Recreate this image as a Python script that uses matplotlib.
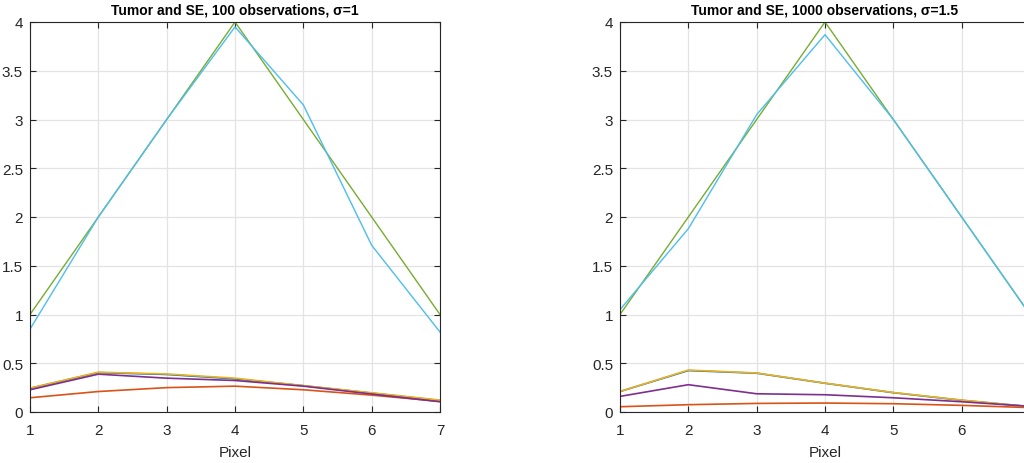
import matplotlib
matplotlib.use("Agg")
import matplotlib.pyplot as plt
from matplotlib.ticker import FuncFormatter

plt.rcParams['font.family'] = ['Liberation Sans', 'DejaVu Sans']

pixels = [1, 2, 3, 4, 5, 6, 7]

# Left panel: 100 observations, sigma=1
left_title = "Tumor and SE, 100 observations, σ=1"
left_se_blue = [0.243, 0.404, 0.385, 0.34, 0.27, 0.194, 0.118]
left_se_orange = [0.146, 0.21, 0.25, 0.265, 0.228, 0.173, 0.109]
left_se_yellow = [0.245, 0.408, 0.39, 0.347, 0.27, 0.197, 0.122]
left_se_purple = [0.228, 0.388, 0.347, 0.323, 0.265, 0.184, 0.105]
left_true = [1, 2, 3, 4, 3, 2, 1]
left_est = [0.85, 2.0, 3.0, 3.95, 3.15, 1.71, 0.82]

# Right panel: 1000 observations, sigma=1.5
right_title = "Tumor and SE, 1000 observations, σ=1.5"
right_se_blue = [0.21, 0.425, 0.398, 0.295, 0.198, 0.12, 0.055]
right_se_orange = [0.054, 0.075, 0.088, 0.092, 0.085, 0.068, 0.045]
right_se_yellow = [0.21, 0.43, 0.40, 0.296, 0.20, 0.122, 0.055]
right_se_purple = [0.16, 0.28, 0.187, 0.177, 0.146, 0.105, 0.058]
right_true = [1, 2, 3, 4, 3, 2, 1]
right_est = [1.05, 1.88, 3.05, 3.87, 3.0, 2.0, 1.0]

colors = ['#0072BD', '#D95319', '#EDB120', '#7E2F8E', '#77AC30', '#4DBEEE']

fig = plt.figure(figsize=(10.24, 4.64), dpi=100)
ax1 = fig.add_axes([30/1024, 51/464, 410/1024, 390/464])
ax2 = fig.add_axes([620/1024, 51/464, 410/1024, 390/464])

def fmt(v, pos):
    return f"{v:g}"

def fmt_right_x(v, pos):
    # tick label at x=7 falls outside the visible figure in the reference
    return "" if v >= 7 else f"{v:g}"

panels = [
    (ax1, left_title, [left_se_blue, left_se_orange, left_se_yellow, left_se_purple], left_true, left_est),
    (ax2, right_title, [right_se_blue, right_se_orange, right_se_yellow, right_se_purple], right_true, right_est),
]

for ax, title, ses, true, est in panels:
    for c, s in zip(colors[:4], ses):
        ax.plot(pixels, s, color=c, lw=1.2)
    ax.plot(pixels, true, color=colors[4], lw=1.0)
    ax.plot(pixels, est, color=colors[5], lw=1.0)
    ax.set_xlim(1, 7)
    ax.set_ylim(0, 4)
    ax.set_xticks(pixels)
    ax.set_yticks([0, 0.5, 1, 1.5, 2, 2.5, 3, 3.5, 4])
    ax.yaxis.set_major_formatter(FuncFormatter(fmt))
    ax.grid(True, color='#e3e3e3', lw=0.9)
    ax.set_axisbelow(True)
    ax.tick_params(direction='in', top=True, right=True, length=4, width=0.8,
                   colors='#262626', labelsize=11)
    ax.tick_params(axis='x', pad=8)
    ax.tick_params(axis='y', pad=5)
    for sp in ax.spines.values():
        sp.set_color('#262626')
        sp.set_linewidth(0.8)
    ax.set_title(title, fontsize=10, fontweight='bold', pad=6, color='black')
    ax.set_xlabel("Pixel", fontsize=11, color='#262626', labelpad=6)

ax2.xaxis.set_major_formatter(FuncFormatter(fmt_right_x))

fig.savefig("out.png", dpi=100)
